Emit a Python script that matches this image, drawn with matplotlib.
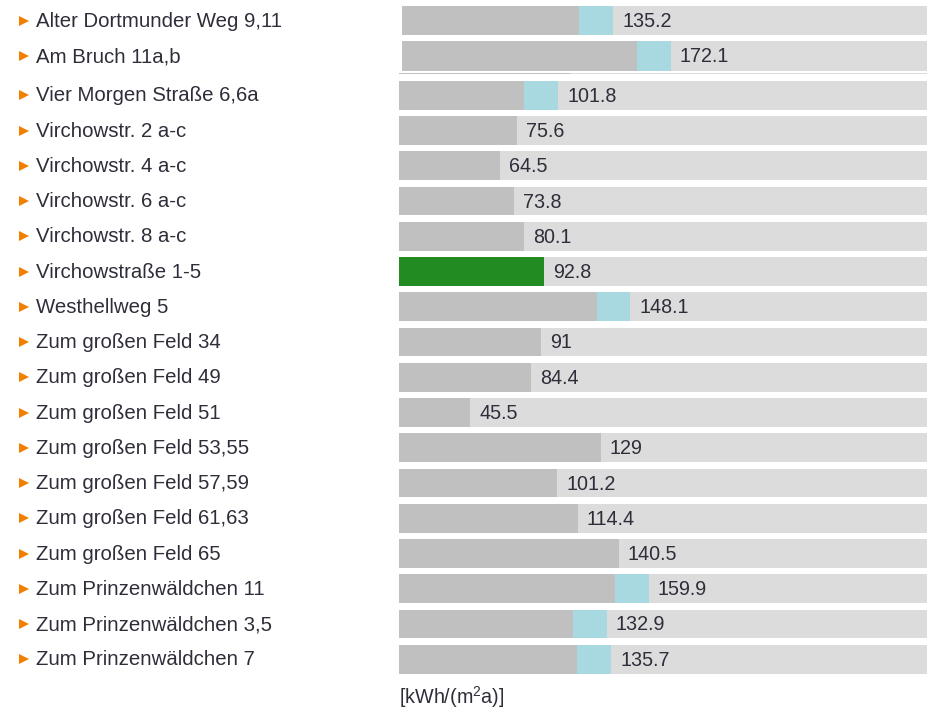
#!/usr/bin/env python3
import numpy as np
import matplotlib
matplotlib.use("Agg")
from matplotlib import pyplot as plt
from matplotlib import transforms

plt.rcParams['font.family'] = ['Liberation Sans', 'DejaVu Sans']
plt.rcParams['mathtext.fontset'] = 'custom'
plt.rcParams['mathtext.rm'] = 'Liberation Sans'

# %% data
# rows pinned at the top of the list
top_names = ["Alter Dortmunder Weg 9,11", "Am Bruch 11a,b"]
top_values = [135.2, 172.1]
top_extra = [21.8, 21.7]

# scrolled list (first row only partly visible under the header)
hidden_value = 109.4
names = [
    "Vier Morgen Straße 6,6a", "Virchowstr. 2 a-c", "Virchowstr. 4 a-c",
    "Virchowstr. 6 a-c", "Virchowstr. 8 a-c", "Virchowstraße 1-5",
    "Westhellweg 5", "Zum großen Feld 34", "Zum großen Feld 49",
    "Zum großen Feld 51", "Zum großen Feld 53,55", "Zum großen Feld 57,59",
    "Zum großen Feld 61,63", "Zum großen Feld 65", "Zum Prinzenwäldchen 11",
    "Zum Prinzenwäldchen 3,5", "Zum Prinzenwäldchen 7",
]
values = [101.8, 75.6, 64.5, 73.8, 80.1, 92.8, 148.1, 91, 84.4, 45.5,
          129, 101.2, 114.4, 140.5, 159.9, 132.9, 135.7]
extra = [21.5, 0, 0, 0, 0, 0, 21.7, 0, 0, 0, 0, 0, 0, 0, 21.8, 21.7, 21.9]
highlight = "Virchowstraße 1-5"
unit = r'[kWh/(m$^2$a)]'

BG = '#DCDCDC'
GRAY = '#C0C0C0'
BLUE = '#A8D8E0'
GREEN = '#228B22'
ORANGE = '#F28000'
TXT = '#2E2E3A'

W, H = 927, 711
fig = plt.figure(figsize=(W / 100, H / 100), dpi=100)


def draw_rows(ax, labels, vals, extras, xmax, height):
    y = np.arange(len(vals))
    ax.barh(y, [xmax] * len(vals), height=height, color=BG, left=0)
    tr = transforms.blended_transform_factory(fig.transFigure, ax.transData)
    for yi, lab, v, e in zip(y, labels, vals, extras):
        if lab == highlight:
            ax.barh(yi, v, height=height, color=GREEN)
        else:
            ax.barh(yi, v - e, height=height, color=GRAY)
            if e > 0:
                ax.barh(yi, e, left=v - e, height=height, color=BLUE)
        ax.annotate('%g' % v, (v, yi), xytext=(9, -1),
                    textcoords='offset pixels', va='center', ha='left',
                    fontsize=14.2, color=TXT)
        ax.plot([24 / W], [yi], marker='>', ms=7.3, color=ORANGE, mew=0,
                transform=tr, clip_on=False)
        ax.text(36 / W, yi + 0.02, lab, transform=tr, va='center', ha='left',
                fontsize=14.7, color=TXT, clip_on=False)


# %% main list
scale = 1.5625  # px per unit
x0 = 399
ax = fig.add_axes([x0 / W, 1 - 680 / H, (W - x0) / W, (680 - 72.5) / H])
xmax = (W - x0) / scale
ax.set_xlim(0, xmax)
ax.set_ylim((680 - 95.25) / 35.25, -1 + (72.5 - 60) / 35.25)
ax.barh(-1, xmax, height=0.81, color=BG)
ax.barh(-1, hidden_value, height=0.81, color=GRAY)
draw_rows(ax, names, values, extra, xmax, 0.81)
ax.set_axis_off()

# %% header rows
x1 = 402
axh = fig.add_axes([x1 / W, 1 - 72.5 / H, (W - x1) / W, 72.5 / H])
xmax1 = (W - x1) / scale
axh.set_xlim(0, xmax1)
axh.set_ylim((72.5 - 20.5) / 35.5, -20.5 / 35.5)
draw_rows(axh, top_names, top_values, top_extra, xmax1, 0.817)
axh.set_axis_off()

fig.text(399 / W, 1 - 697 / H, unit, fontsize=14.2, color=TXT,
         ha='left', va='center')

plt.savefig('out.png', dpi=100)
